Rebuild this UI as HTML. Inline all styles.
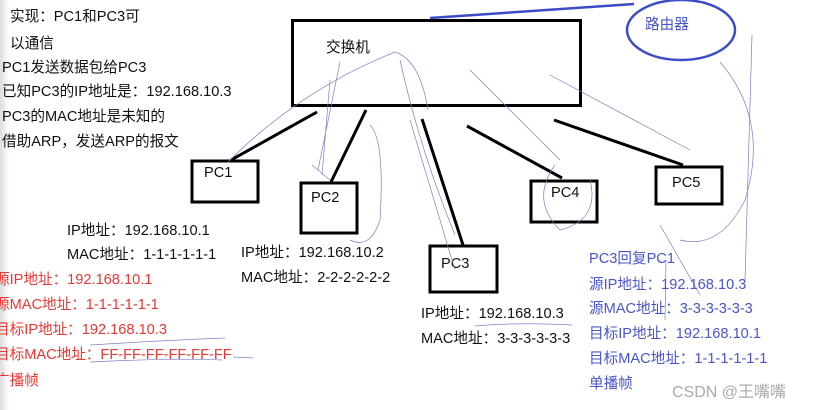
<!DOCTYPE html>
<html><head><meta charset="utf-8"><style>
html,body{margin:0;padding:0;background:#fff;}
svg{display:block;}
text{font-family:"Liberation Sans","Noto Sans CJK SC",sans-serif;font-size:14.6px;}
.k{fill:#111}.r{fill:#e53935}.b{fill:#4a55c8}
</style></head><body>
<svg width="819" height="410" viewBox="0 0 819 410" xmlns="http://www.w3.org/2000/svg">
<defs><linearGradient id="g" x1="0" x2="1"><stop offset="0" stop-color="#ddd"/><stop offset="1" stop-color="#fff"/></linearGradient></defs>
<rect width="819" height="410" fill="#fff"/>
<rect width="9" height="410" fill="url(#g)"/>
<!-- switch -->
<rect x="292.5" y="20.5" width="288" height="85" fill="none" stroke="#000" stroke-width="3"/>
<text class="k" x="326" y="52">交换机</text>
<!-- router -->
<line x1="430" y1="18" x2="634" y2="4" stroke="#3b4cc8" stroke-width="2.5"/>
<ellipse cx="681" cy="30" rx="54" ry="30" fill="none" stroke="#3b4cc8" stroke-width="2.5"/>
<text class="b" x="645" y="29">路由器</text>
<!-- PCs -->
<g fill="none" stroke="#000" stroke-width="3">
<rect x="192" y="161" width="66" height="41"/>
<rect x="301" y="183" width="56" height="50"/>
<rect x="430" y="246" width="67" height="46"/>
<rect x="531" y="181" width="66" height="41"/>
<rect x="656" y="167" width="66" height="37"/>
<line x1="231" y1="160" x2="317" y2="112"/>
<line x1="331" y1="182" x2="366" y2="110"/>
<line x1="422" y1="119" x2="463" y2="245"/>
<line x1="467" y1="126" x2="562" y2="178"/>
<line x1="554" y1="120" x2="683" y2="165"/>
</g>
<text class="k" x="204" y="177">PC1</text>
<text class="k" x="311" y="202">PC2</text>
<text class="k" x="441" y="268">PC3</text>
<text class="k" x="551" y="197">PC4</text>
<text class="k" x="672" y="187">PC5</text>
<!-- sketch lines -->
<g fill="none" stroke="#7a80c4" stroke-width="0.7">
<path d="M228 162 Q300 90 395 52 Q420 60 428 110"/>
<path d="M340 62 L318 170 M330 80 L322 175 M312 165 L330 180"/>
<path d="M370 125 Q385 140 380 220 Q370 250 350 240"/>
<path d="M400 60 Q420 150 455 235 M410 120 L455 270"/>
<path d="M470 70 L560 160 M550 75 L690 150"/>
<path d="M555 165 Q530 200 560 230 Q600 220 590 180"/>
<path d="M720 62 Q770 120 745 200 Q720 250 680 240"/>
<path d="M752 35 L745 280"/>
<path d="M666 260 L665 320 M660 225 L700 295"/>
<path d="M90 345 Q170 340 225 338 M233 357 L253 358"/>
<path d="M90 362 Q170 358 222 360"/>
<path d="M475 326 Q520 322 572 325"/>
</g>
<!-- left notes -->
<text class="k" x="10" y="21">实现：PC1和PC3可</text>
<text class="k" x="10" y="48">以通信</text>
<text class="k" x="2" y="72">PC1发送数据包给PC3</text>
<text class="k" x="2" y="96">已知PC3的IP地址是：192.168.10.3</text>
<text class="k" x="2" y="121">PC3的MAC地址是未知的</text>
<text class="k" x="2" y="146">借助ARP，发送ARP的报文</text>
<text class="k" x="67" y="235">IP地址：192.168.10.1</text>
<text class="k" x="67" y="259">MAC地址：1-1-1-1-1-1</text>
<text class="k" x="241" y="257">IP地址：192.168.10.2</text>
<text class="k" x="241" y="282">MAC地址：2-2-2-2-2-2</text>
<text class="k" x="421" y="318">IP地址：192.168.10.3</text>
<text class="k" x="421" y="343">MAC地址：3-3-3-3-3-3</text>
<text class="r" x="-5" y="284">源IP地址：192.168.10.1</text>
<text class="r" x="-5" y="309">源MAC地址：1-1-1-1-1-1</text>
<text class="r" x="-5" y="334">目标IP地址：192.168.10.3</text>
<text class="r" x="-5" y="359">目标MAC地址：FF-FF-FF-FF-FF-FF</text>
<text class="r" x="-5" y="385">广播帧</text>
<text class="b" x="589" y="263">PC3回复PC1</text>
<text class="b" x="589" y="289">源IP地址：192.168.10.3</text>
<text class="b" x="589" y="313">源MAC地址：3-3-3-3-3-3</text>
<text class="b" x="589" y="338">目标IP地址：192.168.10.1</text>
<text class="b" x="589" y="363">目标MAC地址：1-1-1-1-1-1</text>
<text class="b" x="589" y="388">单播帧</text>
<text x="672" y="397" style="font-size:16px;fill:#aaa">CSDN @王嘴嘴</text>
</svg>
</body></html>
